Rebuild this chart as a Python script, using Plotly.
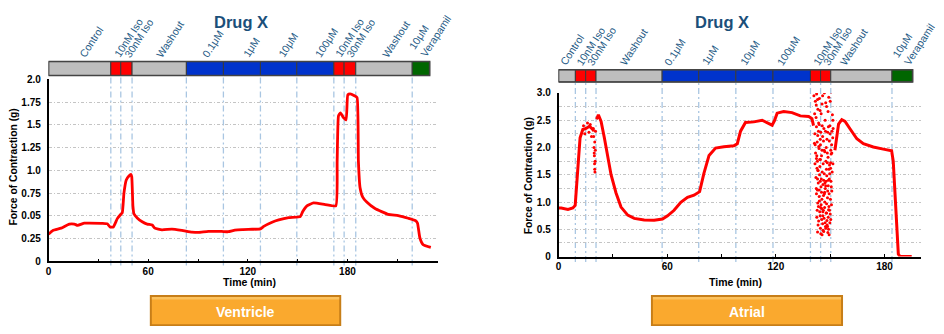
import plotly.graph_objects as go

W, H = 944, 334

# ---------------- data ----------------
vent_t = [0, 2.6, 7.6, 12.5, 15.5, 17.5, 21.5, 24.5, 32.5, 35.5, 37.0, 39.0, 41.4, 43.4, 44.4,
          45.4, 46.8, 48.4, 49.6, 50.1, 50.8, 51.4, 53.4, 56.4, 59.4, 62.4, 64.0, 68.3, 74.3,
          80.3, 86.3, 90.2, 96.2, 104.2, 108.2, 112.2, 116.6, 122.6, 127.6, 129.6, 134.6,
          138.6, 144.6, 151.6, 153.0, 155.6, 159.6, 166.6, 173.0, 173.8, 174.6, 175.8, 177.6,
          179.2, 180.2, 181.6, 184.2, 185.8, 186.6, 187.6, 189.2, 191.6, 196.6, 204.6, 210.6,
          216.6, 221.2, 222.2, 223.6, 225.6, 230.2]
vent_v = [0.30, 0.34, 0.365, 0.41, 0.41, 0.396, 0.42, 0.42, 0.418, 0.412, 0.378, 0.378, 0.47,
          0.515, 0.535, 0.75, 0.895, 0.938, 0.956, 0.93, 0.61, 0.524, 0.478, 0.435, 0.41, 0.40,
          0.365, 0.347, 0.354, 0.34, 0.322, 0.318, 0.329, 0.329, 0.326, 0.343, 0.35, 0.353,
          0.357, 0.385, 0.431, 0.456, 0.481, 0.492, 0.545, 0.61, 0.642, 0.624, 0.61, 1.10, 1.60,
          1.633, 1.58, 1.555, 1.83, 1.84, 1.82, 1.80, 1.10, 0.81, 0.706, 0.652, 0.581, 0.517,
          0.503, 0.474, 0.446, 0.42, 0.26, 0.182, 0.153]

atr_t = [0, 1.5, 5.2, 7.9, 9.2, 10.1, 11.0, 11.9, 13.4, 15.2, 17.1, 18.9, 19.6, 20.2,
         20.8, 21.3, 22.0, 23.5, 25.3, 27.2, 29.0, 31.7, 34.5, 38.2, 41.8, 47.3, 52.8, 57.4,
         60.2, 63.8, 67.5, 71.2, 74.8, 77.9, 80.3, 83.1, 86.7, 91.3, 96.8, 98.7, 100.5, 103.2,
         107.8, 112.4, 115.2, 117.9, 119.2, 120.7, 124.3, 128.9, 133.5, 138.1, 139.9, 140.8,
         146.0, 152.6, 153.7, 154.6, 156.4, 158.2, 161.0, 164.7, 168.3, 173.8, 179.3, 183.9,
         184.8, 185.7, 186.7, 187.6, 188.5, 195.0]
atr_v = [0.889, 0.89, 0.865, 0.89, 0.937, 1.29, 1.77, 2.18, 2.33, 2.35, 2.39, 2.33, 2.30, None,
         2.52, 2.54, 2.60, 2.48, 2.18, 1.83, 1.50, 1.17, 0.907, 0.759, 0.70, 0.67, 0.664, 0.688,
         0.747, 0.848, 0.996, 1.085, 1.126, 1.19, 1.53, 1.855, 1.99, 2.015, 2.03, 2.07, 2.30, 2.46,
         2.47, 2.50, 2.46, 2.41, 2.49, 2.63, 2.66, 2.64, 2.58, 2.57, 2.53, 2.40,
         None, 1.95, 2.22, 2.43, 2.51, 2.48, 2.34, 2.16, 2.07, 2.01, 1.97, 1.94,
         1.75, 1.16, 0.575, 0.047, 0.0, 0.0]

atr_noise_t = [13.8, 14.5, 16.0, 16.8, 17.5, 18.2, 19.2, 19.4, 19.6, 19.7, 19.8, 19.9, 20.0,
               20.0, 20.1, 20.2, 20.3, 20.4,
               141.0, 141.8, 142.5, 143.2, 144.0, 145.5, 146.8, 148.0, 149.2, 150.5, 151.2,
               142.2, 143.6, 145.0, 147.2, 149.8, 151.0, 141.5, 142.8, 143.5, 144.6, 145.8,
               146.5, 147.8, 148.6, 149.5, 150.3, 151.4, 141.9, 142.9, 143.8, 144.3, 145.2,
               146.1, 147.0, 147.9, 148.8, 149.6, 150.5, 151.1, 142.1, 142.7, 143.4, 144.1,
               144.9, 145.6, 146.4, 147.3, 148.1, 148.9, 149.7, 150.4, 150.9, 142.4, 143.1,
               143.9, 144.7, 145.4, 146.2, 147.0, 147.7, 148.5, 149.3, 150.0, 150.7, 142.6,
               143.6, 144.4, 145.8, 146.6, 147.4, 148.2, 149.1, 149.8, 143.0, 144.8, 146.0,
               147.6, 148.7, 145.5, 141.3, 142.4, 143.3, 144.2, 145.1, 146.3, 147.1, 148.4,
               149.4, 150.2, 142.9, 144.0, 145.3, 146.9, 148.0, 149.0, 150.1, 143.7, 145.9,
               147.5, 149.1, 144.5, 146.7, 148.3,
               141.4, 142.3, 143.0, 144.4, 145.8, 147.5, 148.8, 150.0, 151.5,
               141.7, 142.4, 143.1, 143.9, 144.8, 145.6, 146.3, 147.4, 148.2, 149.0, 149.9,
               150.8, 151.6, 141.6, 142.6, 143.2, 144.6, 145.5, 146.7, 147.6, 148.4, 149.3,
               150.2, 150.9, 151.5, 142.3, 143.0, 143.8, 144.5, 145.2, 146.0, 146.8, 147.7,
               148.6, 149.5, 150.6, 142.8, 143.5, 144.2, 145.0, 145.9, 146.9, 148.0, 148.9,
               149.6, 150.3, 143.3, 144.6, 145.3, 146.4, 147.2, 148.5, 149.4]
atr_noise_v = [2.40, 2.25, 2.45, 2.28, 2.42, 2.20, 2.35, 2.20, 2.00, 1.90, 1.85, 1.70, 2.10,
               1.60, 1.55, 1.75, 1.95, 2.30,
               2.95, 2.85, 2.98, 2.70, 2.90, 2.80, 3.00, 2.75, 2.92, 3.02, 2.60,
               2.55, 2.45, 2.62, 2.50, 2.40, 2.30, 2.25, 2.10, 2.30, 2.05, 2.20,
               2.35, 2.00, 2.28, 2.12, 1.95, 2.18, 1.90, 1.75, 1.98, 1.65, 1.85,
               1.70, 1.92, 1.60, 1.82, 1.68, 1.88, 1.55, 1.45, 1.62, 1.35, 1.50,
               1.28, 1.55, 1.40, 1.25, 1.48, 1.30, 1.52, 1.38, 1.20, 1.15, 0.98,
               1.10, 0.90, 1.05, 0.85, 1.00, 0.80, 1.08, 0.92, 0.78, 0.95, 0.72,
               0.65, 0.75, 0.60, 0.70, 0.55, 0.66, 0.50, 0.62, 0.45, 0.42, 0.48,
               0.52, 0.44, 0.40, 2.08, 1.80, 1.58, 1.78, 1.42, 1.12, 1.35, 1.72,
               1.15, 1.62, 1.22, 1.02, 0.88, 1.18, 0.97, 1.40, 1.05, 2.02, 0.82,
               1.30, 0.86, 2.15, 1.95, 0.58,
               2.62, 2.78, 2.88, 2.68, 2.95, 2.82, 2.66, 2.85, 2.50,
               2.05, 2.38, 2.22, 2.42, 2.28, 2.40, 2.12, 2.30, 2.15, 2.38, 2.25,
               2.05, 2.35, 1.70, 1.85, 1.58, 1.78, 1.95, 1.52, 1.75, 1.90, 1.60,
               1.72, 1.90, 1.70, 1.25, 1.42, 1.22, 1.38, 1.18, 1.32, 1.15, 1.38,
               1.20, 1.42, 1.28, 0.85, 0.92, 0.82, 0.95, 0.75, 0.90, 0.80, 0.72,
               0.85, 0.68, 0.58, 0.52, 0.68, 0.46, 0.62, 0.55, 0.40]

seg_kinds = ['base', 'iso', 'iso', 'base', 'drug', 'drug', 'drug', 'drug', 'iso', 'iso', 'base', 'vera']
seg_labels = ['Control', '10nM Iso', '30nM Iso', 'Washout', '0.1μM', '1μM', '10μM', '100μM',
              '10nM Iso', '30nM Iso', 'Washout', '10μM<br>Verapamil']
vent_bounds = [0, 37.5, 43.5, 50.3, 83, 105.3, 127.6, 149.5, 171.8, 178, 185, 219, 229.5]
atr_bounds = [0, 9.3, 15, 20.7, 57.2, 77.4, 97.9, 118.4, 139.1, 144.7, 150.3, 184.1, 195.5]

vent_yticks = [0, 0.25, 0.5, 0.75, 1.0, 1.25, 1.5, 1.75, 2.0]
vent_yticktext = ['0', '0.25', '0.05', '0.75', '1.0', '1.25', '1.5', '1.75', '2.0']
atr_yticks = [0, 0.5, 1.0, 1.5, 2.0, 2.5, 3.0]
atr_yticktext = ['0', '0.5', '1.0', '1.5', '2.0', '2.5', '3.0']
x_ticks = [0, 60, 120, 180]

# ---------------- layout / styling ----------------
SEG_COLORS = {'base': '#BEBEBE', 'iso': '#FF0000', 'drug': '#0033CC', 'vera': '#006600'}
TITLE_COL = '#1B4F7A'
LABEL_COL = '#1E5A85'
FONT = 'Liberation Sans, Arial, sans-serif'
RED = '#FF0000'


def px(x):
    return x / W


def py(y):
    return 1 - y / H


panels = [
    dict(xa='x', ya='y', x0=45.7, x1=436.0, y0=264.3, y1=76.7, xr=[0, 234.3], yr=[0, 2.0],
         bar_top=58.3, bar_bot=72.7, vl_bot=268.5, cx_title=239, cx_xlab=247.5, ylab_x=11,
         ylab_y=166.5, bounds=vent_bounds,
         label_t=[18.2, 39.2, 45.6, 64.6, 92.2, 117, 138.2, 160, 172.2, 179.2, 200.6, 224.3],
         btn=(147.3, 339.3), btn_text='Ventricle'),
    dict(xa='x2', ya='y2', x0=557.3, x1=920.7, y0=259.3, y1=90.7, xr=[0, 200], yr=[0, 3.0],
         bar_top=66.7, bar_bot=79.3, vl_bot=265.0, cx_title=721.7, cx_xlab=735, ylab_x=526.7,
         ylab_y=176.5, bounds=atr_bounds,
         label_t=[0.55, 9.8, 15.8, 33.6, 58.3, 79, 100.1, 120.3, 140.5, 146, 155.1, 190.5],
         btn=(650.0, 842.7), btn_text='Atrial'),
]

fig = go.Figure()

fig.add_trace(go.Scatter(x=vent_t, y=vent_v, mode='lines', xaxis='x', yaxis='y',
                         line=dict(color=RED, width=2.8, shape='spline', smoothing=0.4),
                         hoverinfo='skip'))
fig.add_trace(go.Scatter(x=atr_t, y=atr_v, mode='lines', xaxis='x2', yaxis='y2',
                         line=dict(color=RED, width=3), connectgaps=False, hoverinfo='skip'))
fig.add_trace(go.Scatter(x=atr_noise_t, y=atr_noise_v, mode='markers', xaxis='x2', yaxis='y2',
                         marker=dict(color=RED, size=3, line=dict(width=0)), hoverinfo='skip'))

shapes = []
annotations = []
TA = -57

for p in panels:
    xa = p['xa']
    b = p['bounds']
    for t in b[1:-1]:
        shapes.append(dict(type='line', xref=xa, yref='paper', x0=t, x1=t,
                           y0=py(p['vl_bot']), y1=py(p['bar_bot']), layer='below',
                           line=dict(color='#A9C6E2', width=1.3, dash='6px,3px,2px,3px')))
    for i, kind in enumerate(seg_kinds):
        shapes.append(dict(type='rect', xref=xa, yref='paper', x0=b[i], x1=b[i + 1],
                           y0=py(p['bar_bot']), y1=py(p['bar_top']),
                           fillcolor=SEG_COLORS[kind], line=dict(color='#3a3a3a', width=1)))
    shapes.append(dict(type='rect', xref=xa, yref='paper', x0=b[0], x1=b[-1],
                       y0=py(p['bar_bot']), y1=py(p['bar_top']),
                       fillcolor='rgba(0,0,0,0)', line=dict(color='#444444', width=1.6)))
    for lab, lt in zip(seg_labels, p['label_t']):
        nl = lab.count('<br>') + 1
        annotations.append(dict(text=lab, xref=xa, yref='paper', x=lt, y=py(p['bar_top'] + 0.5),
                                xanchor='left', yanchor='bottom', textangle=TA, showarrow=False,
                                xshift=-5 - 12 * (nl - 1), align='left',
                                font=dict(family=FONT, size=10.5, color=LABEL_COL)))
    annotations.append(dict(text='<b>Drug X</b>', xref='paper', yref='paper', x=px(p['cx_title']),
                            y=py(18), xanchor='center', yanchor='middle', showarrow=False,
                            font=dict(family=FONT, size=16.5, color=TITLE_COL)))
    annotations.append(dict(text='<b>Time (min)</b>', xref='paper', yref='paper', x=px(p['cx_xlab']),
                            y=py(285.5), xanchor='center', yanchor='middle', showarrow=False,
                            font=dict(family=FONT, size=10.5, color='black')))
    annotations.append(dict(text='<b>Force of Contraction (g)</b>', xref='paper', yref='paper',
                            x=px(p['ylab_x']), y=py(p['ylab_y']), xanchor='center', yanchor='middle',
                            textangle=-90, showarrow=False,
                            font=dict(family=FONT, size=10.3, color='black')))
    bx0, bx1 = p['btn']
    shapes.append(dict(type='rect', xref='paper', yref='paper', x0=px(bx0), x1=px(bx1),
                       y0=py(331), y1=py(299), fillcolor='#C77E18', line=dict(width=0)))
    shapes.append(dict(type='rect', xref='paper', yref='paper', x0=px(bx0 + 2), x1=px(bx1 - 2),
                       y0=py(329), y1=py(301), fillcolor='#FAA92E', line=dict(width=0)))
    shapes.append(dict(type='rect', xref='paper', yref='paper', x0=px(bx0 + 2), x1=px(bx1 - 2),
                       y0=py(303.5), y1=py(301), fillcolor='#FCC25E', line=dict(width=0)))
    annotations.append(dict(text='<b>' + p['btn_text'] + '</b>', xref='paper', yref='paper',
                            x=px((bx0 + bx1) / 2), y=py(316), xanchor='center', yanchor='middle',
                            showarrow=False, font=dict(family=FONT, size=14, color='white')))

GRID = dict(showgrid=True, gridcolor='#C4C4C4', gridwidth=1, griddash='3px,2px,1px,2px')
TICKF = dict(family=FONT, size=10, color='black', weight='bold')

p0, p1 = panels
layout = dict(
    width=W, height=H, margin=dict(l=0, r=0, t=0, b=0), showlegend=False,
    paper_bgcolor='white', plot_bgcolor='white',
    xaxis=dict(domain=[px(p0['x0']), px(p0['x1'])], range=p0['xr'], tickvals=x_ticks,
               showline=True, linecolor='black', linewidth=1.5, ticks='inside', ticklen=3,
               tickcolor='black', minor=dict(dtick=30, ticks='inside', ticklen=3, tickcolor='black'),
               showgrid=False, zeroline=False, tickfont=TICKF, anchor='y'),
    yaxis=dict(domain=[py(p0['y0']), py(p0['y1'])], range=p0['yr'], tickvals=vent_yticks,
               ticktext=vent_yticktext, showline=True, linecolor='black', linewidth=1.5,
               ticks='', zeroline=False, tickfont=TICKF, anchor='x', ticklabelstandoff=4, **GRID),
    xaxis2=dict(domain=[px(p1['x0']), px(p1['x1'])], range=p1['xr'], tickvals=x_ticks,
                showline=True, linecolor='black', linewidth=1.5, ticks='inside', ticklen=3,
                tickcolor='black', minor=dict(dtick=30, ticks='inside', ticklen=3, tickcolor='black'),
                showgrid=False, zeroline=False, tickfont=TICKF, anchor='y2'),
    yaxis2=dict(domain=[py(p1['y0']), py(p1['y1'])], range=p1['yr'], tickvals=atr_yticks,
                ticktext=atr_yticktext, showline=True, linecolor='black', linewidth=1.5,
                ticks='', zeroline=False, tickfont=TICKF, anchor='x2', ticklabelstandoff=4,
                minor=dict(dtick=0.25, showgrid=True, gridcolor='#C4C4C4', gridwidth=1,
                           griddash='3px,2px,1px,2px'), **GRID),
    shapes=shapes, annotations=annotations,
)
fig.update_layout(**layout)
fig.write_html('out.html')
